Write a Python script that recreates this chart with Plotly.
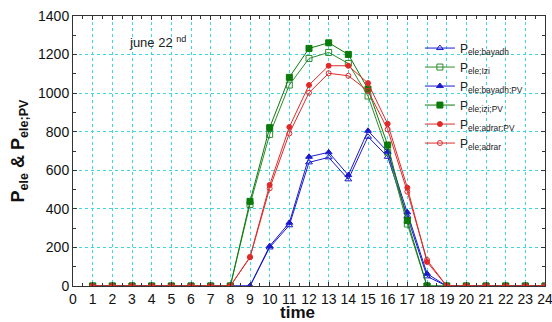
import plotly.graph_objects as go

# Hourly electrical power over the day of June 22nd
hours = list(range(1, 25))

p_ele_bayadh    = [0]*9 + [200, 315, 641, 667, 553, 774, 670, 363, 50, 0, 0, 0, 0, 0, 0]
p_ele_izi       = [0]*8 + [423, 786, 1042, 1180, 1211, 1154, 985, 694, 321, 0, 0, 0, 0, 0, 0, 0]
p_ele_bayadh_pv = [0]*9 + [207, 328, 670, 693, 575, 805, 696, 382, 64, 0, 0, 0, 0, 0, 0]
p_ele_izi_pv    = [0]*8 + [439, 821, 1082, 1232, 1261, 1201, 1021, 731, 339, 0, 0, 0, 0, 0, 0, 0]
p_ele_adrar_pv  = [0]*8 + [150, 524, 824, 1042, 1142, 1142, 1052, 841, 510, 125, 0, 0, 0, 0, 0, 0]
p_ele_adrar     = [0]*8 + [149, 506, 791, 1002, 1103, 1090, 1012, 812, 489, 135, 0, 0, 0, 0, 0, 0]

series_names = [
    "P<sub>ele;bayadh</sub>",
    "P<sub>ele;Izi</sub>",
    "P<sub>ele;bayadh;PV</sub>",
    "P<sub>ele;izi;PV</sub>",
    "P<sub>ele;adrar;PV</sub>",
    "P<sub>ele;adrar</sub>",
]

BLUE = "#1a1acc"
GREEN = "#2e8b2e"
GREEN_DARK = "#0a7a0a"
RED = "#e02a2a"

styles = [
    (p_ele_bayadh,    BLUE,       "triangle-up-open", 6),
    (p_ele_izi,       GREEN,      "square-open",      6),
    (p_ele_bayadh_pv, BLUE,       "triangle-up",      6),
    (p_ele_izi_pv,    GREEN_DARK, "square",           6),
    (p_ele_adrar_pv,  RED,        "circle",           5),
    (p_ele_adrar,     RED,        "circle-open",      5),
]

FONT = "Arial, Liberation Sans, sans-serif"

fig = go.Figure()
for name, (vals, color, symbol, size) in zip(series_names, styles):
    fig.add_trace(go.Scatter(
        x=hours, y=vals, name=name, mode="lines+markers",
        line=dict(color=color, width=1),
        marker=dict(symbol=symbol, size=size, color=color,
                    line=dict(color=color, width=1)),
    ))

fig.add_annotation(
    x=2.75, y=1265, xref="x", yref="y", xanchor="left", yanchor="middle",
    text="june 22 <sup>nd</sup>", showarrow=False,
    font=dict(family=FONT, size=13, color="#222"),
)

# x-axis title placed under the tick labels
fig.add_annotation(
    x=0.475, y=0, xref="paper", yref="paper", xanchor="center", yanchor="top",
    yshift=-15, text="<b>time</b>", showarrow=False,
    font=dict(family=FONT, size=17, color="#111"),
)

axis_common = dict(
    showline=True, linecolor="#333", linewidth=1, mirror="ticks",
    ticks="inside", ticklen=4, tickcolor="#333",
    showgrid=True, gridcolor="#40d8e0", griddash="dot", gridwidth=1,
    zeroline=False, automargin=False, ticklabeloverflow="allow",
    tickfont=dict(family=FONT, size=14, color="#111"),
)

fig.update_xaxes(
    range=[0, 24], dtick=1, tick0=0,
    minor=dict(dtick=0.5, ticks="inside", ticklen=3, tickcolor="#333", showgrid=False),
    **axis_common,
)
fig.update_yaxes(
    range=[0, 1400], dtick=200,
    minor=dict(dtick=100, ticks="inside", ticklen=3, tickcolor="#333", showgrid=False),
    title=dict(text="<b>P<sub>ele</sub> & P<sub>ele;PV</sub></b>", standoff=8,
               font=dict(family=FONT, size=18, color="#111")),
    **axis_common,
)

fig.update_layout(
    width=552, height=322,
    margin=dict(l=73, r=7, t=16, b=36),
    plot_bgcolor="white", paper_bgcolor="white",
    showlegend=True,
    legend=dict(
        x=0.735, y=0.935, xanchor="left", yanchor="top",
        bgcolor="rgba(0,0,0,0)", borderwidth=0,
        font=dict(family=FONT, size=12, color="#222"),
        tracegroupgap=0, itemsizing="trace",
    ),
)

fig.write_html("out.html")
